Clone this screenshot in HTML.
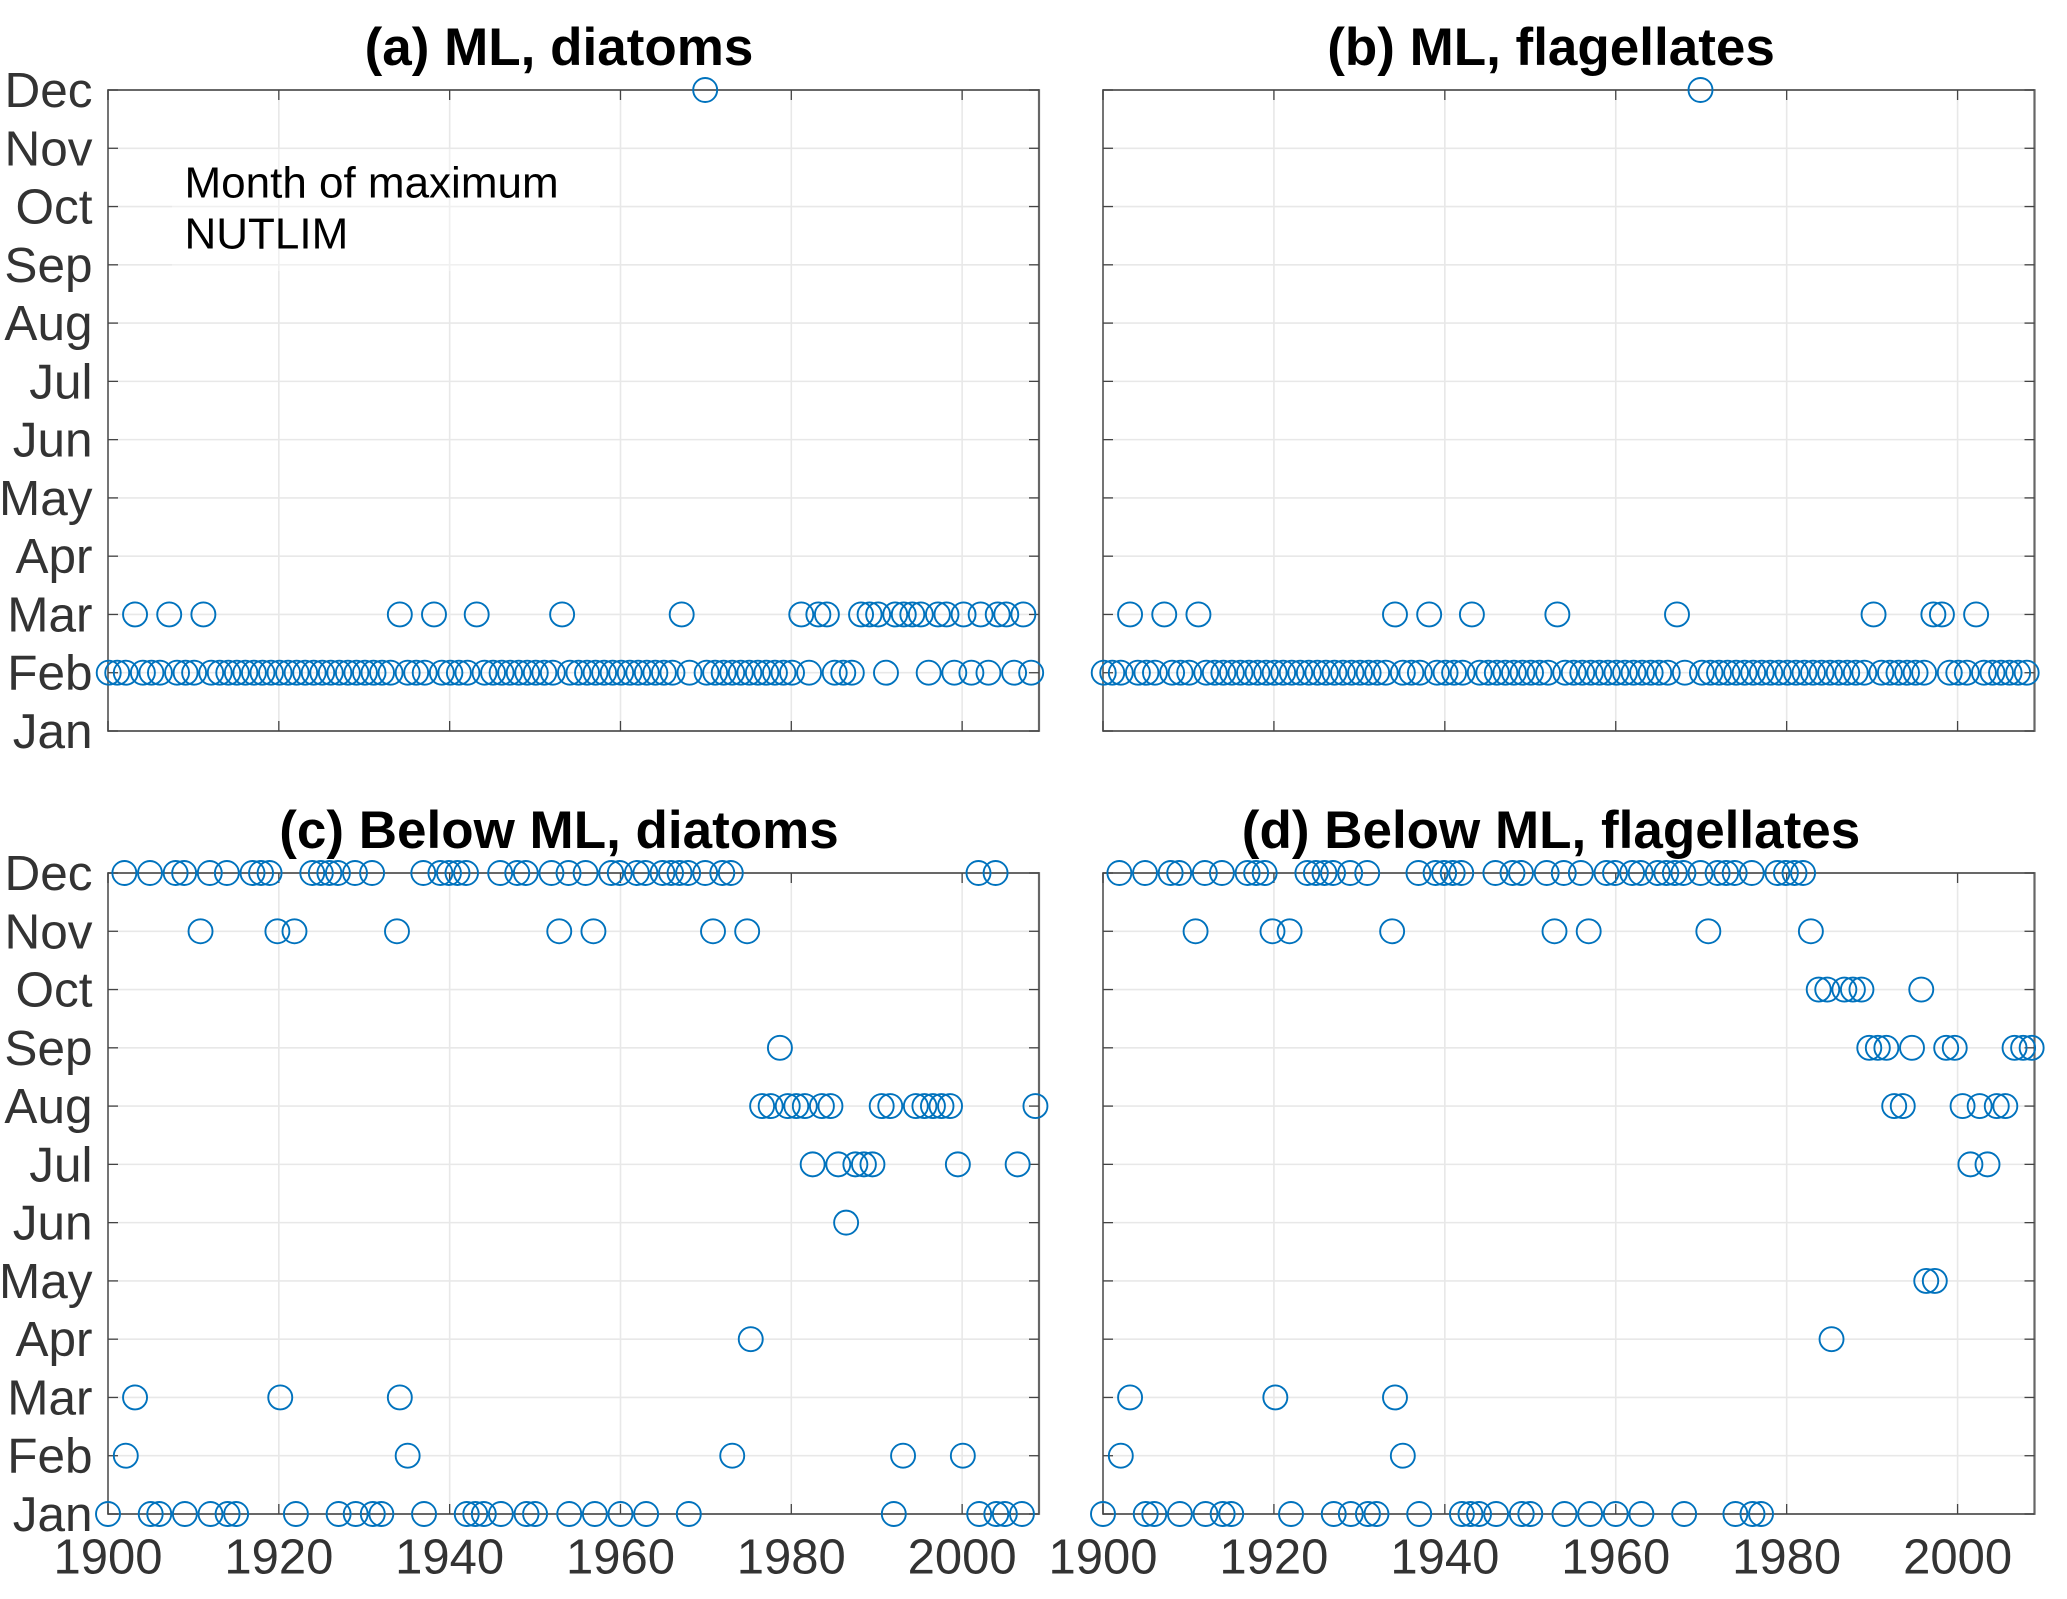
<!DOCTYPE html>
<html lang="en">
<head>
<meta charset="utf-8">
<title>Month of maximum NUTLIM</title>
<style>
html,body{margin:0;padding:0;background:#fff;width:2067px;height:1599px;overflow:hidden}
svg{display:block}
text{font-family:"Liberation Sans",Arial,sans-serif}
</style>
</head>
<body>
<svg id="figure" xmlns="http://www.w3.org/2000/svg" width="2067" height="1599" viewBox="0 0 2067 1599"></svg>
<script>
const monthLabels = ['Jan','Feb','Mar','Apr','May','Jun','Jul','Aug','Sep','Oct','Nov','Dec'];
const yearTicks = [1900,1920,1940,1960,1980,2000];
const firstYear = 1900;
const panelTitles = ['(a) ML, diatoms','(b) ML, flagellates','(c) Below ML, diatoms','(d) Below ML, flagellates'];
const noteLines = ['Month of maximum','NUTLIM'];

const mlDiatoms = [
 2,2,2,3,2,2,2,3,2,2,
 2,3,2,2,2,2,2,2,2,2,
 2,2,2,2,2,2,2,2,2,2,
 2,2,2,2,3,2,2,2,3,2,
 2,2,2,3,2,2,2,2,2,2,
 2,2,2,3,2,2,2,2,2,2,
 2,2,2,2,2,2,2,3,2,12,
 2,2,2,2,2,2,2,2,2,2,
 2,3,2,3,3,2,2,2,3,3,
 3,2,3,3,3,3,2,3,3,2,
 3,2,3,2,3,3,2,3,2];
const mlFlagellates = [
 2,2,2,3,2,2,2,3,2,2,
 2,3,2,2,2,2,2,2,2,2,
 2,2,2,2,2,2,2,2,2,2,
 2,2,2,2,3,2,2,2,3,2,
 2,2,2,3,2,2,2,2,2,2,
 2,2,2,3,2,2,2,2,2,2,
 2,2,2,2,2,2,2,3,2,12,
 2,2,2,2,2,2,2,2,2,2,
 2,2,2,2,2,2,2,2,2,2,
 3,2,2,2,2,2,2,3,3,2,
 2,2,3,2,2,2,2,2,2];
const belowDiatoms = [
 1,12,2,3,12,1,1,12,12,1,
 11,12,1,12,1,1,12,12,12,11,
 3,11,1,12,12,12,12,1,12,1,
 12,1,1,11,3,2,12,1,12,12,
 12,12,1,1,1,12,1,12,12,1,
 1,12,11,12,1,12,11,1,12,12,
 1,12,12,1,12,12,12,12,1,12,
 11,12,12,2,11,4,8,8,9,8,
 8,8,7,8,8,7,6,7,7,7,
 8,8,1,2,8,8,8,8,8,7,
 2,12,1,12,1,1,7,1,8];
const belowFlagellates = [
 1,12,2,3,12,1,1,12,12,1,
 11,12,1,12,1,1,12,12,12,11,
 3,11,1,12,12,12,12,1,12,1,
 12,1,1,11,3,2,12,1,12,12,
 12,12,1,1,1,12,1,12,12,1,
 1,12,11,12,1,12,11,1,12,12,
 1,12,12,1,12,12,12,12,1,12,
 11,12,12,12,1,12,1,1,12,12,
 12,12,11,10,10,4,10,10,10,9,
 9,9,8,8,9,10,5,5,9,9,
 8,7,8,7,8,8,9,9,9];

const seriesList = [mlDiatoms, mlFlagellates, belowDiatoms, belowFlagellates];
const xMin = 1900, xMax = 2009, yMin = 1, yMax = 12;
const boxes = [
 {l:108, r:1039, t:90, b:731, cx:559, ty:65, left:true, bottom:false},
 {l:1103, r:2034.5, t:90, b:731, cx:1551, ty:65, left:false, bottom:false},
 {l:108, r:1039, t:873, b:1514, cx:559, ty:848, left:true, bottom:true},
 {l:1103, r:2034.5, t:873, b:1514, cx:1551, ty:848, left:false, bottom:true}
];
const svg = document.getElementById('figure');
const NS = 'http://www.w3.org/2000/svg';
function make(tag, attrs, parent, txt){
  const el = document.createElementNS(NS, tag);
  for (const k in attrs) el.setAttribute(k, attrs[k]);
  if (txt !== undefined) el.textContent = txt;
  parent.appendChild(el);
  return el;
}
function xScale(box, t){ return box.l + (t - xMin) / (xMax - xMin) * (box.r - box.l); }
function yScale(box, m){ return box.b - (m - yMin) / (yMax - yMin) * (box.b - box.t); }
function seg(parent, x1, y1, x2, y2, color, w){
  return make('line', {x1:x1, y1:y1, x2:x2, y2:y2, stroke:color, 'stroke-width':w}, parent);
}

boxes.forEach(function(box, idx){
  const g = make('g', {}, svg);
  
  

  const grid = make('g', {}, g);
  
  
  yearTicks.forEach(function(y){
    const x = xScale(box, y);
    seg(grid, x, box.t, x, box.b, '#e8e8e8', 1.6);
  });
  monthLabels.forEach(function(lbl, i){
    const y = yScale(box, i + 1);
    seg(grid, box.l, y, box.r, y, '#e8e8e8', 1.6);
  });

  if (idx === 0) {
    const patch = make('rect', {x:172, y:149, width:428, height:122, fill:'#fff', 'fill-opacity':0.35}, g);
    
    
    noteLines.forEach(function(line, i){
      const t = make('text', {x:184.5, y:197.5 + i * 51, 'font-size':44, fill:'#000'}, g, line);
      
      
    });
  }

  const axes = make('g', {}, g);
  
  
  seg(axes, box.l, box.t, box.r, box.t, '#555', 1.8);
  seg(axes, box.l, box.b, box.r, box.b, '#555', 1.8);
  seg(axes, box.l, box.t - 0.9, box.l, box.b + 0.9, '#666', 1.8);
  seg(axes, box.r, box.t - 0.9, box.r, box.b + 0.9, '#666', 2.2);
  yearTicks.forEach(function(y){
    const x = xScale(box, y);
    seg(axes, x, box.b, x, box.b - 10, '#444', 1.3);
    seg(axes, x, box.t, x, box.t + 10, '#444', 1.3);
  });
  monthLabels.forEach(function(lbl, i){
    const y = yScale(box, i + 1);
    seg(axes, box.l, y, box.l + 10, y, '#444', 1.3);
    seg(axes, box.r, y, box.r - 10, y, '#444', 1.3);
  });

  const marks = make('g', {fill:'none', stroke:'#0072BD', 'stroke-width':1.9}, g);
  
  
  seriesList[idx].forEach(function(month, i){
    const t = firstYear + i + (month - 1) / 12;
    const c = make('circle', {cx:xScale(box, t), cy:yScale(box, month), r:12}, marks);
    
    
  });

  const title = make('text', {x:box.cx, y:box.ty, 'font-size':53, 'font-weight':'bold', fill:'#000', 'text-anchor':'middle'}, g, panelTitles[idx]);
  
  

  if (box.left) {
    monthLabels.forEach(function(lbl, i){
      const t = make('text', {x:92.5, y:yScale(box, i + 1) + 17, 'font-size':49.5, fill:'#333', 'text-anchor':'end'}, g, lbl);
      
      
    });
  }
  if (box.bottom) {
    yearTicks.forEach(function(y){
      const t = make('text', {x:xScale(box, y), y:1573.5, 'font-size':49, fill:'#333', 'text-anchor':'middle'}, g, String(y));
      
      
    });
  }
});
</script>
</body>
</html>
